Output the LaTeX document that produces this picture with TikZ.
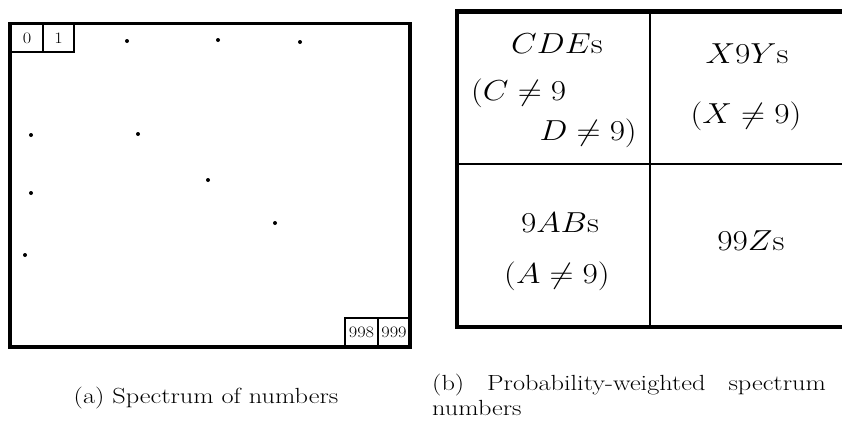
\RequirePackage{fix-cm}
\documentclass[tikz,border=0pt]{standalone}
\usepackage{graphicx}
\newcommand{\sx}[1]{\scalebox{1.15}[1]{#1}}
\newcommand{\sxl}[1]{\scalebox{1.15}[1]{#1}}
\newcommand{\sxc}[1]{\scalebox{1.2}[1]{#1}}
\tikzset{
  big/.style={font=\fontsize{29}{34}\selectfont, inner sep=0pt},
  lbl/.style={font=\fontsize{16}{18}\selectfont, inner sep=0pt},
  captext/.style={font=\fontsize{22}{26}\selectfont, inner sep=0pt},
  dotmark/.style={fill=black, circle, minimum size=4bp, inner sep=0pt},
  frame/.style={line width=3.5bp},
  cell/.style={line width=1.5bp},
  outer/.style={line width=4.5bp},
  inner/.style={line width=2bp}
}
\begin{document}
\begin{tikzpicture}[x=1bp,y=-1bp]
\useasboundingbox (0,0) rectangle (842,423);
\clip (0,0) rectangle (842,423);
% ---- (a) spectrum ----
\draw[frame] (10,23.5) rectangle (410,347);
\draw[cell] (10,23.5) rectangle (43,52);
\draw[cell] (43,23.5) rectangle (74,52);
\draw[cell] (345,318) rectangle (378,347);
\draw[cell] (378,318) rectangle (410,347);
\node[lbl] (n0) at (27,38.5) {\sxl{0}};
\node[lbl] (n1) at (58.5,38.5) {\sxl{1}};
\node[lbl] (n998) at (361.5,332.5) {\sxl{998}};
\node[lbl] (n999) at (394,332.5) {\sxl{999}};
\node[dotmark] (d1) at (127,41) {};
\node[dotmark] (d2) at (218,40) {};
\node[dotmark] (d3) at (300,42) {};
\node[dotmark] (d4) at (31,135) {};
\node[dotmark] (d5) at (138,134) {};
\node[dotmark] (d6) at (31,193) {};
\node[dotmark] (d7) at (208,180) {};
\node[dotmark] (d8) at (275,223) {};
\node[dotmark] (d9) at (25,255) {};
% ---- (b) table ----
\draw[outer] (457,11.5) -- (860,11.5);
\draw[outer] (457,327) -- (860,327);
\draw[outer] (457,9.25) -- (457,329.25);
\draw[inner] (650,11.5) -- (650,327);
\draw[inner] (457,164) -- (860,164);
\node[big, anchor=base] (cde) at (557,53) {\sx{$CDE$s}};
\node[big, anchor=base west] (c9) at (471,100) {\sx{$(C\neq 9$}};
\node[big, anchor=base east] (d9t) at (637,140) {\sx{$D\neq 9)$}};
\node[big, anchor=base] (x9y) at (747,63) {\sx{$X9Y$s}};
\node[big, anchor=base] (x9) at (746,123) {\sx{$(X\neq 9)$}};
\node[big, anchor=base] (nab) at (560,232) {\sx{$9AB$s}};
\node[big, anchor=base] (a9) at (557,283) {\sx{$(A\neq 9)$}};
\node[big, anchor=base] (zz) at (751,250) {\sx{$99Z$s}};
% ---- captions ----
\node[captext, anchor=base] (capa) at (206,403) {\sxc{(a) Spectrum of numbers}};
\node[captext, anchor=base west] (capb1) at (432,390) {\sxc{\makebox[328bp][s]{(b) Probability-weighted spectrum}}};
\node[captext, anchor=base west] (capb2) at (432,415) {\sxc{numbers}};
\end{tikzpicture}
\end{document}
